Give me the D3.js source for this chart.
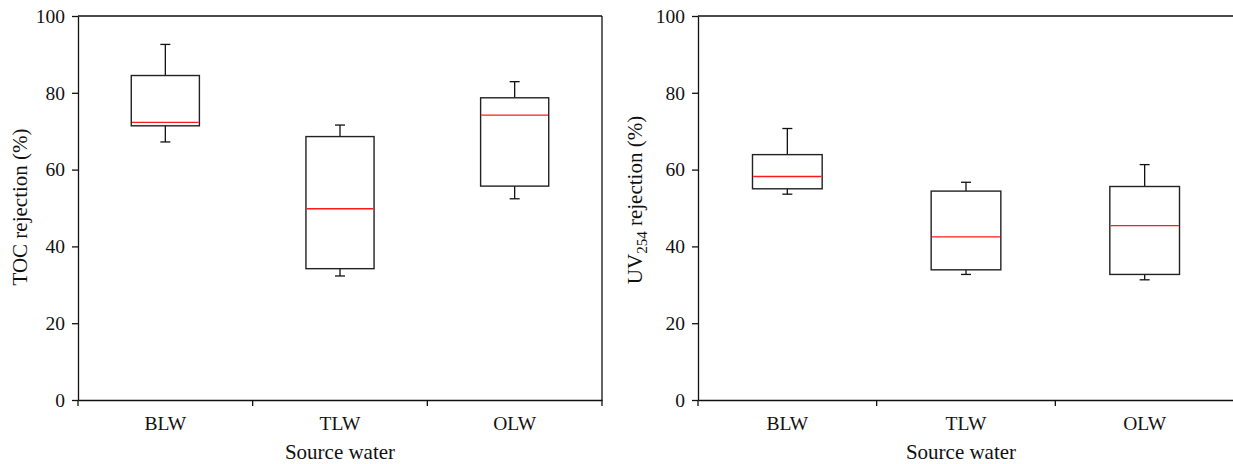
<!DOCTYPE html>
<html>
<head>
<meta charset="utf-8">
<script src="https://cdn.jsdelivr.net/npm/d3@7"></script>
<style>
  html, body { margin: 0; padding: 0; background: #fff; }
  svg { display: block; }
  text { font-family: "Liberation Serif", "Times New Roman", serif; fill: #111; }
</style>
</head>
<body>
<svg id="chart" width="1233" height="464"></svg>
<script>
const categories = ["BLW", "TLW", "OLW"];
const yTicks = [0, 20, 40, 60, 80, 100];

// TOC rejection (%)
const tocWhiskerLow  = [67.2, 32.3, 52.4];
const tocQ1          = [71.4, 34.2, 55.7];
const tocMedian      = [72.3, 49.8, 74.2];
const tocQ3          = [84.5, 68.6, 78.7];
const tocWhiskerHigh = [92.6, 71.6, 82.9];

// UV254 rejection (%)
const uvWhiskerLow  = [53.6, 32.7, 31.3];
const uvQ1          = [55.0, 33.9, 32.7];
const uvMedian      = [58.2, 42.5, 45.4];
const uvQ3          = [63.9, 54.4, 55.6];
const uvWhiskerHigh = [70.7, 56.7, 61.3];

const svg = d3.select("#chart");

function panel(opts) {
  const { x0, x1, yTop, yBot, lo, q1, med, q3, hi, rightBorder, ylabel, ylabelX, ylabelY, xlabelX } = opts;
  const x = d3.scaleBand().domain(categories).range([x0, x1]).padding(0);
  const y = d3.scaleLinear().domain([0, 100]).range([yBot, yTop]);
  const g = svg.append("g");

  // frame (top, right)
  g.append("line").attr("x1", x0).attr("x2", x1).attr("y1", y(100)).attr("y2", y(100))
    .attr("stroke", "#111").attr("stroke-width", 1.3);
  if (rightBorder) {
    g.append("line").attr("x1", x1).attr("x2", x1).attr("y1", y(100)).attr("y2", y(0))
      .attr("stroke", "#111").attr("stroke-width", 1.3);
  }

  // y axis
  const ya = g.append("g").attr("transform", `translate(${x0},0)`)
    .call(d3.axisLeft(y).tickValues(yTicks).tickSize(6).tickSizeOuter(0).tickPadding(7));
  ya.selectAll("path, line").attr("stroke", "#111").attr("stroke-width", 1.3);
  ya.selectAll("text").attr("font-size", 19.5).attr("font-family", "Liberation Serif").attr("fill", "#111");

  // x axis
  const xa = g.append("g").attr("transform", `translate(0,${y(0)})`)
    .call(d3.axisBottom(x).tickSize(0).tickSizeOuter(0).tickPadding(16));
  xa.selectAll("path").attr("stroke", "#111").attr("stroke-width", 1.3);
  xa.selectAll("text").attr("font-size", 19.5).attr("font-family", "Liberation Serif").attr("fill", "#111");
  // boundary ticks
  const bounds = categories.map(c => x(c)).concat([x.range()[1]]);
  g.selectAll(".btick").data(bounds).enter().append("line")
    .attr("x1", d => d).attr("x2", d => d)
    .attr("y1", y(0)).attr("y2", y(0) + 6)
    .attr("stroke", "#111").attr("stroke-width", 1.3);

  // boxes
  const bw = x.bandwidth() * 0.39;
  const capW = 10;
  categories.forEach((c, i) => {
    const cx = x(c) + x.bandwidth() / 2;
    // whiskers
    g.append("line").attr("x1", cx).attr("x2", cx).attr("y1", y(q3[i])).attr("y2", y(hi[i]))
      .attr("stroke", "#111").attr("stroke-width", 1.3);
    g.append("line").attr("x1", cx).attr("x2", cx).attr("y1", y(q1[i])).attr("y2", y(lo[i]))
      .attr("stroke", "#111").attr("stroke-width", 1.3);
    g.append("line").attr("x1", cx - capW / 2).attr("x2", cx + capW / 2).attr("y1", y(hi[i])).attr("y2", y(hi[i]))
      .attr("stroke", "#111").attr("stroke-width", 1.3);
    g.append("line").attr("x1", cx - capW / 2).attr("x2", cx + capW / 2).attr("y1", y(lo[i])).attr("y2", y(lo[i]))
      .attr("stroke", "#111").attr("stroke-width", 1.3);
    // box
    g.append("rect").attr("x", cx - bw / 2).attr("y", y(q3[i]))
      .attr("width", bw).attr("height", y(q1[i]) - y(q3[i]))
      .attr("fill", "#fff").attr("stroke", "#222").attr("stroke-width", 1.4);
    // median
    g.append("line").attr("x1", cx - bw / 2 + 0.7).attr("x2", cx + bw / 2 - 0.7)
      .attr("y1", y(med[i])).attr("y2", y(med[i]))
      .attr("stroke", "#ff1a1a").attr("stroke-width", 1.3);
  });

  // y label
  const yl = g.append("text")
    .attr("transform", `translate(${ylabelX},${ylabelY}) rotate(-90)`)
    .attr("text-anchor", "middle").attr("font-size", 21);
  ylabel(yl);

  // x label
  g.append("text").attr("x", xlabelX).attr("y", 459).attr("text-anchor", "middle")
    .attr("font-size", 21).text("Source water");
}

panel({
  x0: 78, x1: 602, yTop: 16, yBot: 400,
  lo: tocWhiskerLow, q1: tocQ1, med: tocMedian, q3: tocQ3, hi: tocWhiskerHigh,
  rightBorder: true,
  ylabel: t => t.text("TOC rejection (%)"),
  ylabelX: 27, ylabelY: 207, xlabelX: 340
});

panel({
  x0: 698, x1: 1234, yTop: 16, yBot: 400,
  lo: uvWhiskerLow, q1: uvQ1, med: uvMedian, q3: uvQ3, hi: uvWhiskerHigh,
  rightBorder: false,
  ylabel: t => {
    t.append("tspan").text("UV");
    t.append("tspan").attr("font-size", 15).attr("dy", 5).text("254");
    t.append("tspan").attr("dy", -5).text(" rejection (%)");
  },
  ylabelX: 642, ylabelY: 200, xlabelX: 961
});
</script>
</body>
</html>
